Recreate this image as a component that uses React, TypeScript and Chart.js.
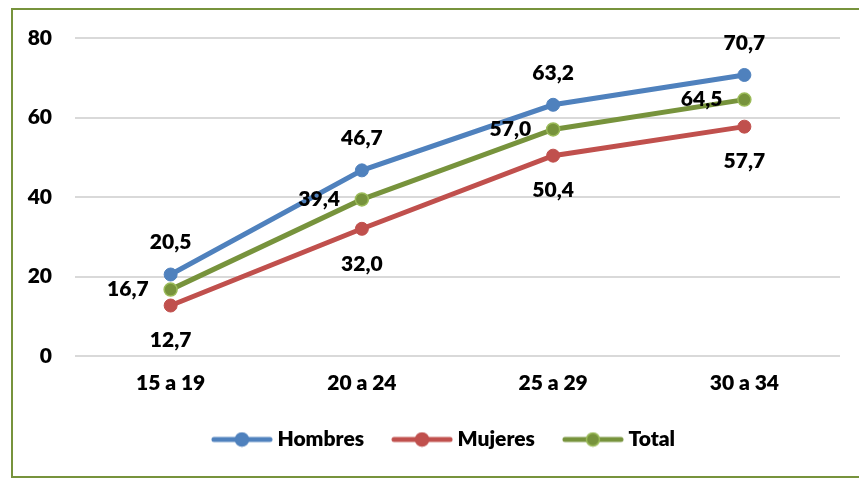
import React, { useEffect, useRef } from "react";
import { Chart, registerables } from "chart.js";

Chart.register(...registerables);

const categories = ["15 a 19", "20 a 24", "25 a 29", "30 a 34"];
const hombres = [20.5, 46.7, 63.2, 70.7];
const mujeres = [12.7, 32.0, 50.4, 57.7];
const total = [16.7, 39.4, 57.0, 64.5];
const seriesNames = ["Hombres", "Mujeres", "Total"];
const yMin = 0;
const yMax = 80;
const yStep = 20;

const BLUE = "#4F81BD";
const RED = "#C0504D";
const GREEN = "#77933C";
const GREEN_LIGHT = "#9BBB59";
const FONT = "Lato, 'Open Sans', sans-serif";
const FS = 21;
const FW = "800";

function legendSymbol(color: string, fill: string, border: string) {
  const c = document.createElement("canvas");
  c.width = 62;
  c.height = 16;
  const ctx = c.getContext("2d")!;
  ctx.strokeStyle = color;
  ctx.lineWidth = 5;
  ctx.lineCap = "round";
  ctx.beginPath();
  ctx.moveTo(3, 8);
  ctx.lineTo(59, 8);
  ctx.stroke();
  ctx.beginPath();
  ctx.arc(31, 8, 6.5, 0, Math.PI * 2);
  ctx.fillStyle = fill;
  ctx.fill();
  ctx.lineWidth = 1.5;
  ctx.strokeStyle = border;
  ctx.stroke();
  return c;
}

const valueLabels = {
  id: "valueLabels",
  afterDatasetsDraw(chart: any) {
    const ctx = chart.ctx;
    ctx.save();
    ctx.font = `${FW} ${FS}px ${FONT}`;
    ctx.fillStyle = "#000";
    chart.data.datasets.forEach((ds: any, i: number) => {
      const meta = chart.getDatasetMeta(i);
      meta.data.forEach((pt: any, j: number) => {
        const v = ds.data[j] as number;
        const txt = v.toFixed(1).replace(".", ",");
        const { x, y } = pt.getProps(["x", "y"], true);
        if (ds.labelPos === "top") {
          ctx.textAlign = "center";
          ctx.textBaseline = "middle";
          ctx.fillText(txt, x, y - 32);
        } else if (ds.labelPos === "bottom") {
          ctx.textAlign = "center";
          ctx.textBaseline = "middle";
          ctx.fillText(txt, x, y + 35);
        } else {
          ctx.textAlign = "right";
          ctx.textBaseline = "middle";
          ctx.fillText(txt, x - 22, y);
        }
      });
    });
    ctx.restore();
  },
};

const legendShift = {
  id: "legendShift",
  afterLayout(chart: any) {
    const lg = chart.legend;
    if (lg) {
      lg.left += 16;
      lg.right += 16;
    }
  },
};

export default function App() {
  const ref = useRef<HTMLCanvasElement>(null);

  useEffect(() => {
    document.body.style.overflow = "hidden";
    const symbols = [
      legendSymbol(BLUE, BLUE, BLUE),
      legendSymbol(RED, RED, RED),
      legendSymbol(GREEN, GREEN, GREEN_LIGHT),
    ];
    const chart = new Chart(ref.current!, {
      type: "line",
      data: {
        labels: categories,
        datasets: [
          {
            label: seriesNames[0],
            data: hombres,
            borderColor: BLUE,
            backgroundColor: BLUE,
            pointBackgroundColor: BLUE,
            pointBorderColor: BLUE,
            borderWidth: 5,
            pointRadius: 6.5,
            pointBorderWidth: 1,
            tension: 0,
            labelPos: "top",
          } as any,
          {
            label: seriesNames[1],
            data: mujeres,
            borderColor: RED,
            backgroundColor: RED,
            pointBackgroundColor: RED,
            pointBorderColor: RED,
            borderWidth: 5,
            pointRadius: 6.5,
            pointBorderWidth: 1,
            tension: 0,
            labelPos: "bottom",
          } as any,
          {
            label: seriesNames[2],
            data: total,
            borderColor: GREEN,
            backgroundColor: GREEN,
            pointBackgroundColor: GREEN,
            pointBorderColor: GREEN_LIGHT,
            borderWidth: 5,
            pointRadius: 6.5,
            pointBorderWidth: 1.5,
            tension: 0,
            labelPos: "left",
          } as any,
        ],
      },
      options: {
        responsive: false,
        animation: false,
        layout: { padding: { top: 38, left: 20, right: 19, bottom: 18 } },
        scales: {
          x: {
            offset: true,
            grid: { display: false, drawTicks: false, offset: true },
            border: { display: false },
            ticks: {
              color: "#000",
              font: { family: FONT, size: FS, weight: FW },
              padding: 15,
            },
            afterFit: (s: any) => {
              s.height = 40;
            },
          },
          y: {
            min: yMin,
            max: yMax,
            grid: { color: "#D9D9D9", lineWidth: 2, drawTicks: false },
            border: { display: false },
            ticks: {
              stepSize: yStep,
              color: "#000",
              font: { family: FONT, size: FS, weight: FW },
              padding: 23,
            },
            afterFit: (s: any) => {
              s.width = 55;
            },
          },
        },
        plugins: {
          tooltip: { enabled: false },
          legend: {
            position: "bottom",
            labels: {
              usePointStyle: true,
              pointStyleWidth: 50,
              padding: 33,
              color: "#000",
              font: { family: FONT, size: FS, weight: FW },
              generateLabels: (c: any) =>
                c.data.datasets.map((ds: any, i: number) => ({
                  text: ds.label,
                  pointStyle: symbols[i],
                  fillStyle: ds.borderColor,
                  strokeStyle: ds.borderColor,
                  lineWidth: 0,
                  hidden: false,
                  datasetIndex: i,
                  fontColor: "#000",
                })),
            },
          },
        },
      } as any,
      plugins: [valueLabels, legendShift],
    });
    return () => chart.destroy();
  }, []);

  return (
    <div>
      <div
        style={{
          position: "absolute",
          left: 11,
          top: 8,
          width: 848,
          height: 470,
          border: `2px solid ${GREEN}`,
          borderRight: "none",
          boxSizing: "border-box",
        }}
      />
      <canvas
        ref={ref}
        width={859}
        height={478}
        style={{ position: "absolute", left: 0, top: 0, width: 859, height: 478 }}
      />
    </div>
  );
}
